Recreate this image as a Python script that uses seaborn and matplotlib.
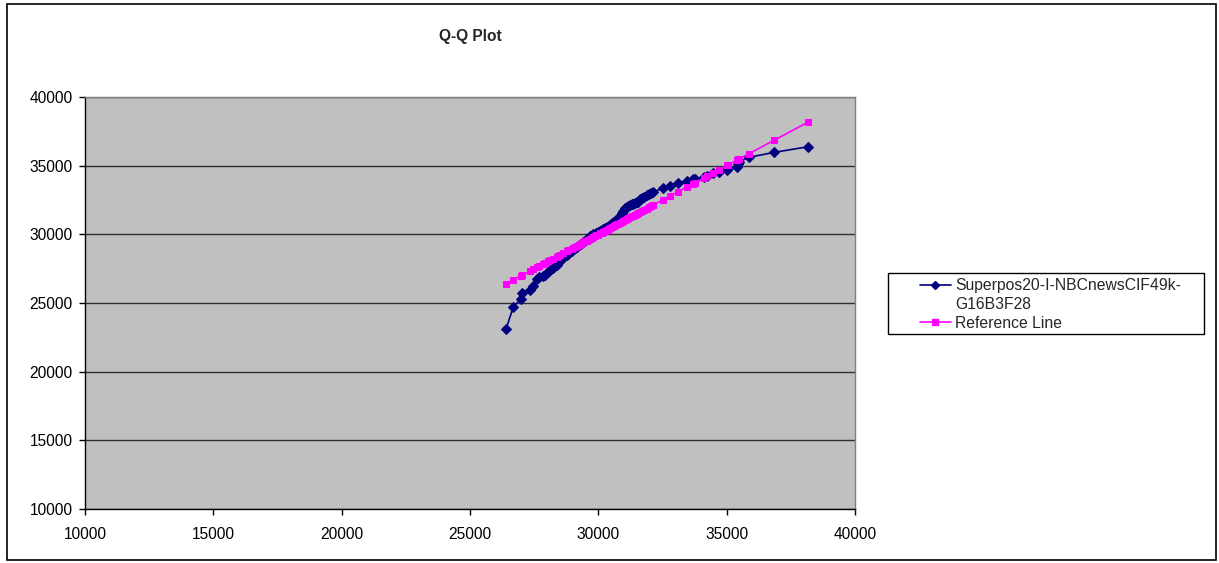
import matplotlib
matplotlib.use("Agg")
import matplotlib.pyplot as plt
from matplotlib.lines import Line2D
from matplotlib.patches import Rectangle
import seaborn as sns
import pandas as pd

# ---- data ----
ref_quantiles = [
    26400, 26690, 26990, 27040, 27330, 27470, 27600, 27700, 27850, 27930,
    28050, 28120, 28240, 28380, 28440, 28510, 28630, 28770, 28830, 28960,
    29030, 29100, 29170, 29250, 29320, 29360, 29420, 29490, 29550, 29610,
    29680, 29740, 29800, 29860, 29920, 29980, 30070, 30130, 30200, 30260,
    30330, 30400, 30460, 30530, 30600, 30660, 30720, 30780, 30850, 30910,
    30960, 31040, 31100, 31170, 31230, 31300, 31370, 31430, 31500, 31560,
    31620, 31690, 31760, 31880, 31960, 32050, 32140, 32530, 32790, 33110,
    33440, 33700, 33770, 34120, 34220, 34460, 34710, 35020, 35060, 35390,
    35450, 35490, 35880, 36850, 38180,
]
data_quantiles = [
    23080, 24730, 25300, 25750, 25940, 26240, 26720, 26870, 26990, 27040,
    27280, 27400, 27560, 27770, 27900, 28130, 28280, 28500, 28600, 28790,
    28910, 29000, 29100, 29190, 29280, 29350, 29440, 29540, 29630, 29720,
    29880, 29930, 29990, 30050, 30110, 30170, 30260, 30330, 30400, 30460,
    30540, 30620, 30680, 30790, 30880, 30960, 31060, 31170, 31330, 31520,
    31700, 31890, 31960, 32050, 32130, 32190, 32240, 32300, 32350, 32380,
    32540, 32650, 32740, 32860, 32950, 33040, 33100, 33350, 33520, 33760,
    33890, 34000, 34050, 34150, 34250, 34440, 34520, 34690, 34810, 34930,
    35120, 35290, 35610, 35970, 36380,
]
series_label_1 = "Superpos20-I-NBCnewsCIF49k-"
series_label_2 = "G16B3F28"
ref_label = "Reference Line"
title = "Q-Q Plot"
x_ticks = [10000, 15000, 20000, 25000, 30000, 35000, 40000]
y_ticks = [10000, 15000, 20000, 25000, 30000, 35000, 40000]

df = pd.DataFrame({"x": ref_quantiles, "data": data_quantiles, "ref": ref_quantiles})

sns.set_style("white")
plt.rcParams["font.family"] = ["Liberation Sans", "DejaVu Sans"]

W, H = 1219, 563
fig = plt.figure(figsize=(W / 100, H / 100), dpi=100)
ax = fig.add_axes([85 / W, (H - 509) / H, 770 / W, 412 / H])
ax.set_facecolor("#C0C0C0")

navy = "#000080"
magenta = "#FF00FF"

sns.lineplot(data=df, x="x", y="data", ax=ax, color=navy, marker="D",
             markersize=4.8, markeredgecolor=navy, linewidth=1.2,
             estimator=None, sort=False, legend=False)
sns.lineplot(data=df, x="x", y="ref", ax=ax, color=magenta, marker="s",
             markersize=4.6, markeredgecolor=magenta, linewidth=1.2,
             estimator=None, sort=False, legend=False)

ax.set_xlim(10000, 40000)
ax.set_ylim(10000, 40000)
ax.set_xticks(x_ticks)
ax.set_yticks(y_ticks)
ax.set_xticklabels([str(v) for v in x_ticks])
ax.set_yticklabels([str(v) for v in y_ticks])
ax.set_xlabel("")
ax.set_ylabel("")

ax.yaxis.grid(True, color="#000000", linewidth=1.0, alpha=0.75)
ax.xaxis.grid(False)
ax.set_axisbelow(True)

for s in ["left", "bottom"]:
    ax.spines[s].set_color("#000000")
    ax.spines[s].set_linewidth(1.0)
for s in ["top", "right"]:
    ax.spines[s].set_color("#808080")
    ax.spines[s].set_linewidth(1.0)
    ax.spines[s].set_visible(True)

ax.tick_params(axis="both", which="major", direction="out", length=4,
               width=1, color="#000000", labelsize=11.2, labelcolor="#000000",
               left=True, bottom=True)
ax.tick_params(axis="x", pad=9)
ax.tick_params(axis="y", pad=5)

fig.text(470 / W, 1 - 37 / H, title, ha="center", va="center",
         fontsize=11.2, fontweight="bold")

handles = [
    Line2D([], [], color=navy, marker="D", markersize=4, linewidth=1.2),
    Line2D([], [], color="none", marker=None, linewidth=0),
    Line2D([], [], color=magenta, marker="s", markersize=4, linewidth=1.2),
]
labels = [series_label_1, series_label_2, ref_label]
leg = fig.legend(handles, labels, loc="upper left",
                 bbox_to_anchor=(920 / W, 1 - 278 / H),
                 frameon=False, fontsize=11.3,
                 handlelength=1.95, handletextpad=0.3, labelspacing=0.25,
                 borderpad=0.0, borderaxespad=0)

# legend frame
fig.patches.append(Rectangle((888 / W, 1 - 334 / H), (1204 - 888) / W, (334 - 273) / H,
                             transform=fig.transFigure, fill=False,
                             edgecolor="#000000", linewidth=1.0))

# outer chart border
fig.patches.append(Rectangle((7 / W, 3 / H), (1216 - 7) / W, (559 - 3) / H,
                             transform=fig.transFigure, fill=False,
                             edgecolor="#000000", linewidth=1.2))

fig.savefig("out.png", dpi=100)
